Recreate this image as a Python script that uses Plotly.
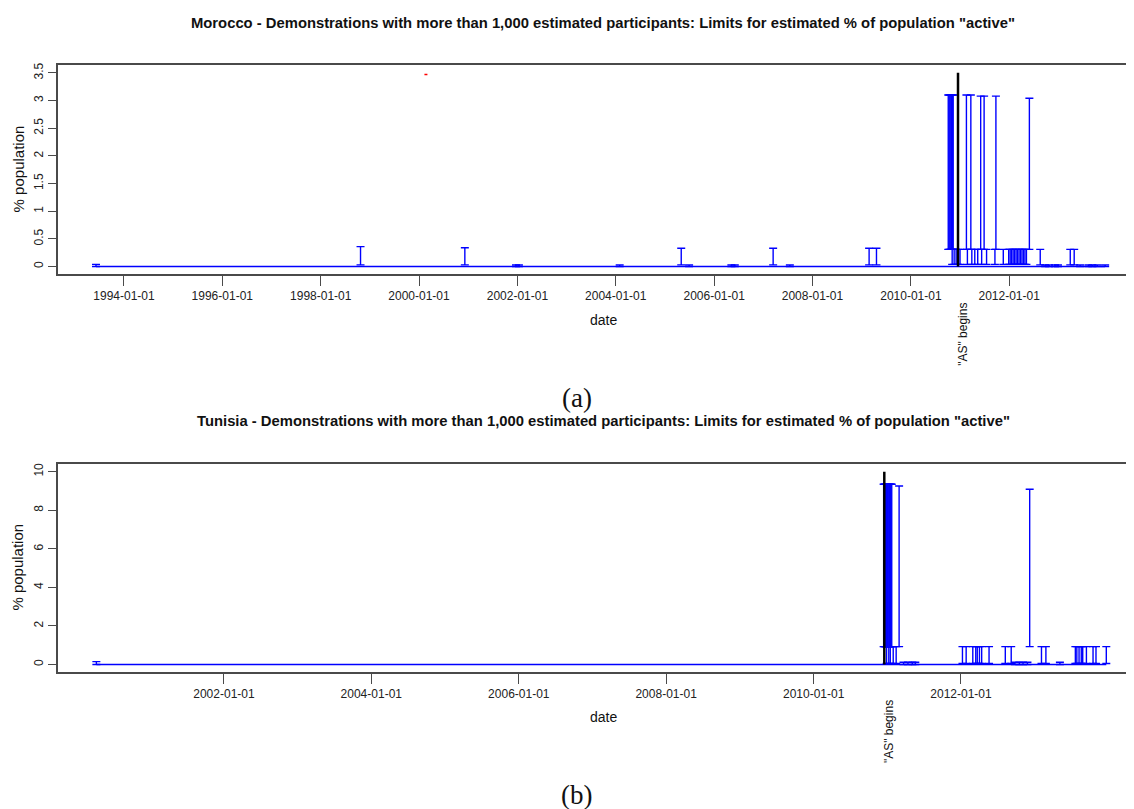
import plotly.graph_objects as go
import pandas as pd

# ---------------- data (decimal years, lower / upper limits in % population) -------------
mor_year = [1993.43, 1998.81, 2000.93, 2001.97, 2002.03, 2004.08, 2005.33, 2005.49,
            2006.35, 2006.42, 2007.20, 2007.54, 2009.15, 2009.30,
            2010.76, 2010.78, 2010.80, 2010.82, 2010.83, 2010.85, 2010.86,
            2010.84, 2010.88, 2010.92, 2010.96, 2011.00,
            2011.13, 2011.22, 2011.15, 2011.24, 2011.30, 2011.36,
            2011.42, 2011.49, 2011.44, 2011.54,
            2011.73, 2011.71, 2011.88,
            2011.99, 2012.02, 2012.05, 2012.08, 2012.11, 2012.14, 2012.17,
            2012.20, 2012.23, 2012.26, 2012.29, 2012.32, 2012.35,
            2012.41, 2012.63, 2012.73, 2012.81, 2012.93, 2012.99,
            2013.24, 2013.32, 2013.44, 2013.61, 2013.69, 2013.79, 2013.95]
mor_low = [0.00, 0.03, 0.03, 0.00, 0.00, 0.00, 0.03, 0.00,
           0.00, 0.00, 0.03, 0.00, 0.03, 0.03,
           0.31, 0.31, 0.31, 0.31, 0.31, 0.31, 0.31,
           0.04, 0.04, 0.04, 0.04, 0.04,
           0.31, 0.31, 0.04, 0.04, 0.04, 0.04,
           0.31, 0.31, 0.04, 0.04,
           0.31, 0.04, 0.04,
           0.04, 0.04, 0.04, 0.04, 0.04, 0.04, 0.04,
           0.04, 0.04, 0.04, 0.04, 0.04, 0.04,
           0.31, 0.03, 0.00, 0.00, 0.00, 0.00,
           0.03, 0.03, 0.00, 0.00, 0.00, 0.00, 0.00]
mor_high = [0.04, 0.36, 0.34, 0.03, 0.03, 0.03, 0.33, 0.03,
            0.03, 0.03, 0.33, 0.03, 0.33, 0.33,
            3.10, 3.10, 3.10, 3.10, 3.10, 3.10, 3.10,
            0.31, 0.31, 0.31, 0.31, 0.31,
            3.10, 3.10, 0.31, 0.31, 0.31, 0.31,
            3.08, 3.08, 0.31, 0.31,
            3.08, 0.31, 0.31,
            0.31, 0.31, 0.31, 0.31, 0.31, 0.31, 0.31,
            0.31, 0.31, 0.31, 0.31, 0.31, 0.31,
            3.04, 0.31, 0.03, 0.03, 0.03, 0.03,
            0.31, 0.31, 0.03, 0.03, 0.03, 0.03, 0.03]

tun_year = [2000.27,
            2010.95, 2010.96, 2010.97, 2010.98, 2010.99, 2011.00, 2011.01,
            2011.02, 2011.03, 2011.04, 2011.05, 2011.06,
            2011.16,
            2010.99, 2011.02, 2011.04, 2011.08, 2011.12,
            2011.22, 2011.28, 2011.34, 2011.38,
            2012.02, 2012.07, 2012.16, 2012.20, 2012.22, 2012.25, 2012.28,
            2012.38, 2012.60, 2012.68,
            2012.73, 2012.79, 2012.84, 2012.90,
            2012.93, 2013.09, 2013.15, 2013.34,
            2013.55, 2013.57, 2013.60, 2013.63, 2013.65, 2013.70,
            2013.79, 2013.83, 2013.97]
tun_low = [0.00,
           0.93, 0.93, 0.93, 0.93, 0.93, 0.93, 0.93,
           0.93, 0.93, 0.93, 0.93, 0.93,
           0.93,
           0.05, 0.05, 0.05, 0.05, 0.05,
           0.00, 0.00, 0.00, 0.00,
           0.05, 0.05, 0.05, 0.05, 0.05, 0.05, 0.05,
           0.05, 0.05, 0.05,
           0.00, 0.00, 0.00, 0.00,
           0.93, 0.05, 0.05, 0.00,
           0.05, 0.05, 0.05, 0.05, 0.05, 0.05,
           0.05, 0.05, 0.05]
tun_high = [0.15,
            9.35, 9.35, 9.35, 9.35, 9.35, 9.35, 9.35,
            9.35, 9.35, 9.35, 9.35, 9.35,
            9.26,
            0.93, 0.93, 0.93, 0.93, 0.93,
            0.12, 0.12, 0.12, 0.12,
            0.93, 0.93, 0.93, 0.93, 0.93, 0.93, 0.93,
            0.93, 0.93, 0.93,
            0.12, 0.12, 0.12, 0.12,
            9.09, 0.93, 0.93, 0.12,
            0.93, 0.93, 0.93, 0.93, 0.93, 0.93,
            0.93, 0.93, 0.93]

as_begins = "2010-12-17"
mor_ymax = 3.5
tun_ymax = 10
mor_ticks = ["1994-01-01", "1996-01-01", "1998-01-01", "2000-01-01", "2002-01-01",
             "2004-01-01", "2006-01-01", "2008-01-01", "2010-01-01", "2012-01-01"]
tun_ticks = ["2002-01-01", "2004-01-01", "2006-01-01", "2008-01-01", "2010-01-01", "2012-01-01"]
mor_yticks = [0, 0.5, 1, 1.5, 2, 2.5, 3, 3.5]
tun_yticks = [0, 2, 4, 6, 8, 10]
red_mark_year = [2000.11, 2000.22]
red_mark_y = [3.47, 3.47]

title_mor = 'Morocco - Demonstrations with more than 1,000 estimated participants: Limits for estimated % of population "active"'
title_tun = 'Tunisia - Demonstrations with more than 1,000 estimated participants: Limits for estimated % of population "active"'


def to_date(v):
    y = int(v)
    s = pd.Timestamp(year=y, month=1, day=1)
    e = pd.Timestamp(year=y + 1, month=1, day=1)
    return s + (e - s) * (v - y)


# the page body has an 8px margin: the figure is sized so it ends at the window edge
OFF = 8
W, H = 1134 - OFF, 809 - OFF
FONT = "Liberation Sans, Arial, sans-serif"
BLUE = "#0000ff"
AXC = "#4a4a4a"


def pdx(px):
    return (px - OFF) / W


def pdy(py):
    return 1 - (py - OFF) / H


fig = go.Figure()


def add_panel(years, low, high, xa, ya, ymax):
    d = [to_date(v) for v in years]
    order = sorted(range(len(d)), key=lambda i: d[i])
    fig.add_trace(go.Scatter(x=[d[i] for i in order], y=[0] * len(d), mode="lines",
                             line=dict(color=BLUE, width=1.5), xaxis=xa, yaxis=ya,
                             showlegend=False, hoverinfo="skip"))
    fig.add_trace(go.Scatter(
        x=d, y=low, mode="markers", marker=dict(size=1, opacity=0),
        error_y=dict(type="data", symmetric=False,
                     array=[h - l for h, l in zip(high, low)],
                     arrayminus=[0] * len(low), color=BLUE, thickness=1.4, width=4),
        xaxis=xa, yaxis=ya, showlegend=False))
    fig.add_trace(go.Scatter(x=[as_begins, as_begins], y=[0, ymax], mode="lines",
                             line=dict(color="black", width=2.5), xaxis=xa, yaxis=ya,
                             showlegend=False, hoverinfo="skip"))


add_panel(mor_year, mor_low, mor_high, "x", "y", mor_ymax)
add_panel(tun_year, tun_low, tun_high, "x2", "y2", tun_ymax)
fig.add_trace(go.Scatter(x=[to_date(v) for v in red_mark_year], y=red_mark_y, mode="lines",
                         line=dict(color="red", width=1.5, dash="dot"), showlegend=False,
                         xaxis="x", yaxis="y"))

xcommon = dict(showgrid=False, zeroline=False, showline=True, linecolor=AXC, linewidth=1.5,
               mirror=True, ticks="outside", ticklen=10, tickcolor=AXC, tickwidth=1.2,
               tickfont=dict(family=FONT, size=12, color="#222"), domain=[pdx(57.5), 1])
ycommon = dict(showgrid=False, zeroline=False, showline=True, linecolor=AXC, linewidth=1.5,
               mirror=False, ticks="outside", ticklen=8, tickcolor=AXC, tickwidth=1.2,
               tickangle=-90, tickfont=dict(family=FONT, size=12, color="#222"))

fig.update_layout(
    width=W, height=H, margin=dict(l=0, r=0, t=0, b=0),
    paper_bgcolor="white", plot_bgcolor="white", showlegend=False,
    xaxis=dict(xcommon, type="date", range=[to_date(1992.648), to_date(2014.537)],
               tickvals=mor_ticks, ticktext=mor_ticks, anchor="y"),
    yaxis=dict(ycommon, range=[-0.14, 3.64], tickvals=mor_yticks,
               ticktext=[f"{v:g}" for v in mor_yticks],
               domain=[pdy(272.3), pdy(62.3)], anchor="x"),
    xaxis2=dict(xcommon, type="date", range=[to_date(1999.743), to_date(2014.346)],
                tickvals=tun_ticks, ticktext=tun_ticks, anchor="y2"),
    yaxis2=dict(ycommon, range=[-0.4, 10.4], tickvals=tun_yticks,
                ticktext=[str(v) for v in tun_yticks],
                domain=[pdy(671.7), pdy(462.7)], anchor="x2"),
)

ann = []


def txt(text, x, y, size, bold=False, angle=0, family=FONT, xref="paper", xshift=0):
    ann.append(dict(text=f"<b>{text}</b>" if bold else text, x=x, y=y, xref=xref, yref="paper",
                    showarrow=False, textangle=angle, xanchor="center", yanchor="middle",
                    xshift=xshift, font=dict(family=family, size=size, color="#111")))


cx = pdx(603)
SERIF = "Liberation Serif, Times New Roman, serif"
txt(title_mor, cx, pdy(20), 14.8, bold=True)
txt(title_tun, cx, pdy(420), 14.8, bold=True)
txt("date", cx, pdy(318), 14)
txt("date", cx, pdy(717), 14)
txt("% population", pdx(18), pdy(167), 15, angle=-90)
txt("% population", pdx(18), pdy(566.7), 15, angle=-90)
txt('"AS" begins', as_begins, pdy(333), 12, angle=-90, xref="x", xshift=5)
txt('"AS" begins', as_begins, pdy(731.5), 12, angle=-90, xref="x2", xshift=4)
txt("(a)", pdx(577), pdy(396), 27, family=SERIF)
txt("(b)", pdx(576), pdy(795), 27, family=SERIF)
fig.update_layout(annotations=ann)

fig.write_html("out.html")
